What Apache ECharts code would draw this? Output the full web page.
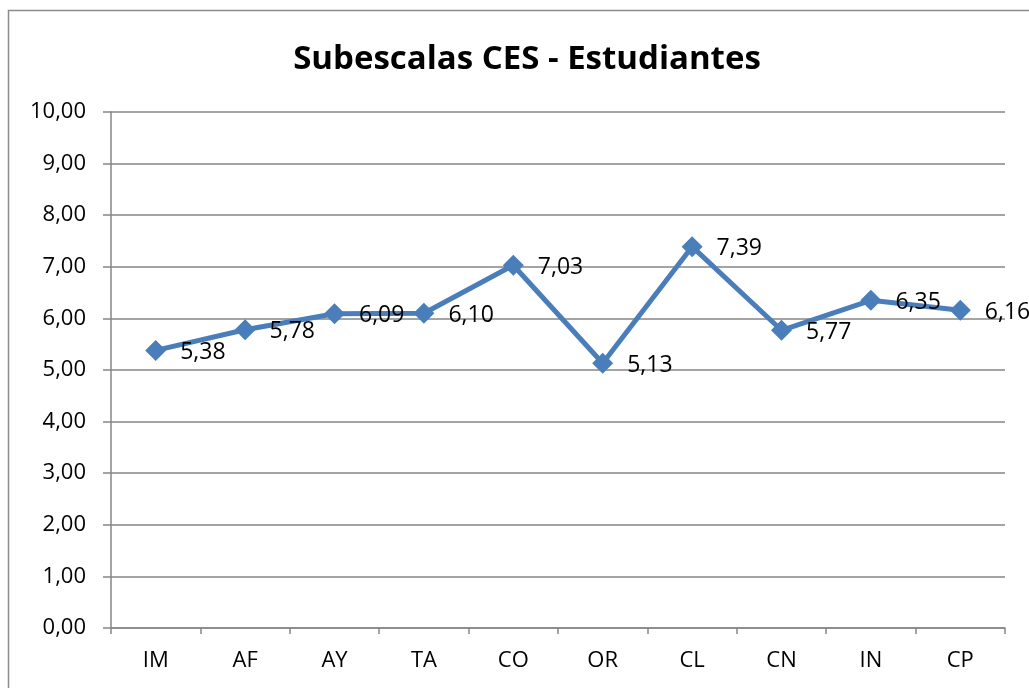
<!DOCTYPE html>
<html lang="es">
<head>
    <meta charset="UTF-8">
    <title>Subescalas CES - Estudiantes</title>
    <script src="https://cdn.jsdelivr.net/npm/echarts@6/dist/echarts.min.js"></script>
    <style>
        body { margin: 0; background: #fff; }
        #main { width: 1029px; height: 688px; }
    </style>
</head>
<body>
<div id="main"></div>
<script>
    var categories = ['IM', 'AF', 'AY', 'TA', 'CO', 'OR', 'CL', 'CN', 'IN', 'CP'];
    var values = [5.38, 5.78, 6.09, 6.10, 7.03, 5.13, 7.39, 5.77, 6.35, 6.16];

    // formato con coma decimal
    var fmt = function (v) { return Number(v).toFixed(2).replace('.', ','); };

    var font = 'Open Sans, Liberation Sans, sans-serif';

    var option = {
        backgroundColor: '#fff',
        animation: false,
        title: {
            text: 'Subescalas CES - Estudiantes',
            left: 522,
            top: 38,
            textAlign: 'center',
            textStyle: { fontFamily: font, fontSize: 33, fontWeight: 'bold', color: '#000' }
        },
        graphic: [{
            type: 'rect',
            shape: { x: 8.5, y: 10.5, width: 1040, height: 700 },
            style: { fill: 'none', stroke: '#8c8c8c', lineWidth: 1.5 },
            silent: true
        }],
        grid: { left: 111, right: 24, top: 112, bottom: 60 },
        xAxis: {
            type: 'category',
            data: categories,
            boundaryGap: true,
            axisLine: { lineStyle: { color: '#868686', width: 1.5 } },
            axisTick: { show: true, length: 6, lineStyle: { color: '#868686', width: 1.5 } },
            axisLabel: { color: '#000', fontFamily: font, fontSize: 22, margin: 22 }
        },
        yAxis: {
            type: 'value',
            min: 0,
            max: 10,
            interval: 1,
            axisLine: { show: true, lineStyle: { color: '#868686', width: 1.5 } },
            axisTick: { show: true, length: 8, lineStyle: { color: '#868686', width: 1.5 } },
            splitLine: { lineStyle: { color: '#868686', width: 1.5 } },
            axisLabel: { color: '#000', fontFamily: font, fontSize: 22, margin: 25, formatter: fmt }
        },
        series: [{
            type: 'line',
            data: values,
            symbol: 'diamond',
            symbolSize: 21,
            lineStyle: { color: '#4a7ebb', width: 5 },
            itemStyle: { color: '#4a7ebb' },
            label: {
                show: true,
                position: 'right',
                distance: 14,
                offset: [0, 2],
                color: '#000',
                fontFamily: font,
                fontSize: 23,
                formatter: function (p) { return fmt(p.value); }
            }
        }]
    };

    var myChart = echarts.init(document.getElementById('main'));
    myChart.setOption(option);
</script>
</body>
</html>
